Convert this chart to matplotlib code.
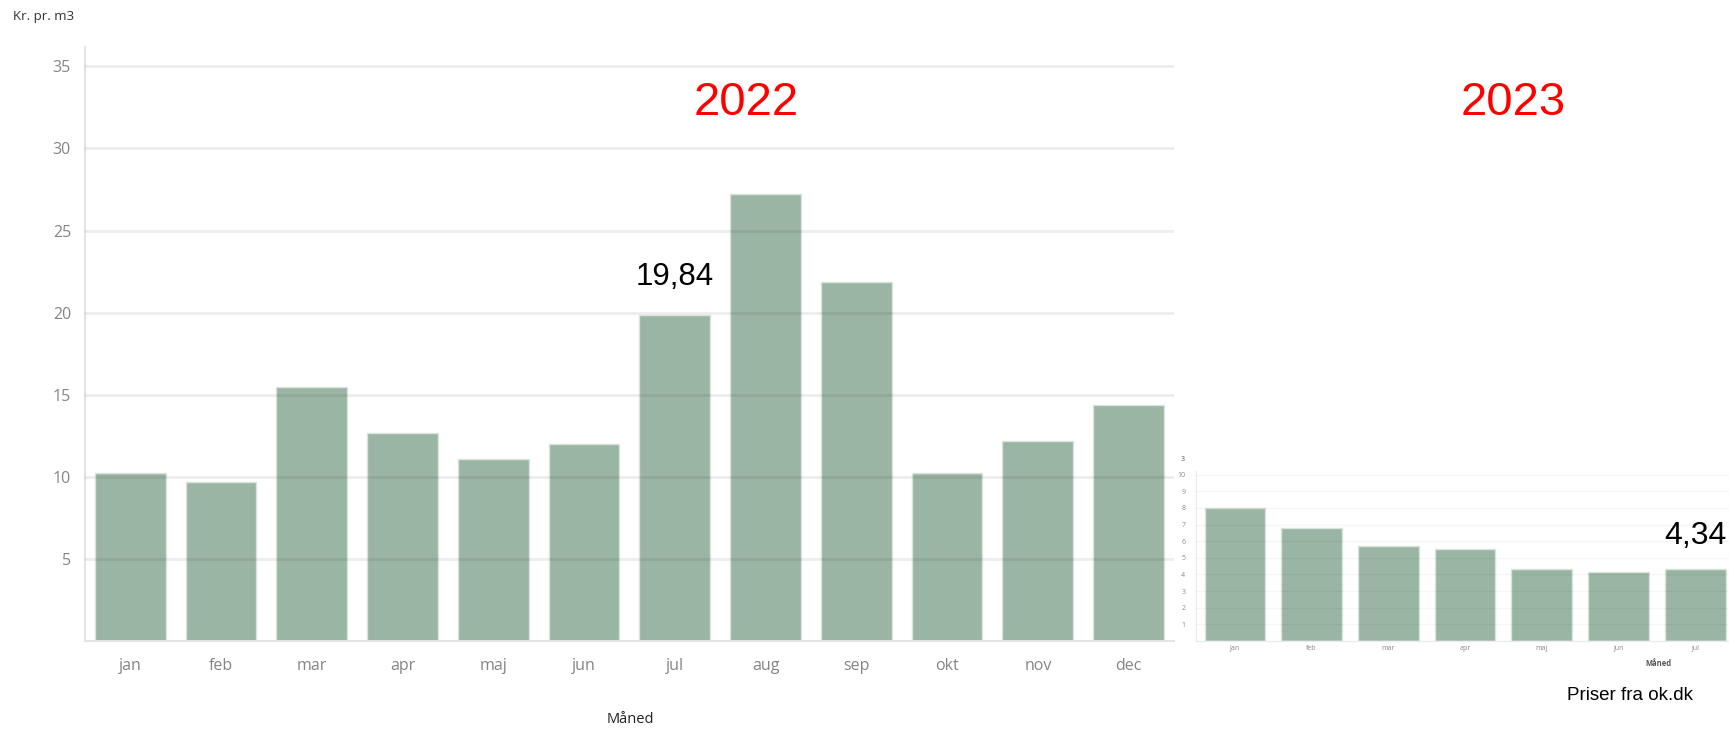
import matplotlib
matplotlib.use("Agg")
import matplotlib.pyplot as plt

months_2022 = ["jan", "feb", "mar", "apr", "maj", "jun", "jul", "aug", "sep", "okt", "nov", "dec"]
prices_2022 = [10.21, 9.70, 15.45, 12.67, 11.11, 12.02, 19.84, 27.25, 21.87, 10.21, 12.16, 14.37]
months_2023 = ["jan", "feb", "mar", "apr", "maj", "jun", "jul"]
prices_2023 = [7.98, 6.77, 5.73, 5.56, 4.35, 4.16, 4.34]
yticks_2022 = [5, 10, 15, 20, 25, 30, 35]
yticks_2023 = [1, 2, 3, 4, 5, 6, 7, 8, 9, 10]

BAR = "#9ab5a3"
EDGE = "#d9e4dc"
SPINE = "#e4e4e4"
TICKFONT = "Open Sans"

fig = plt.figure(figsize=(17.29, 7.29), dpi=100)

# ---- main 2022 chart ----
ax = fig.add_axes([0.0491, 0.1207, 0.679 - 0.0491, 0.936 - 0.1207])
x1 = range(len(months_2022))
ax.bar(x1, prices_2022, width=0.78, color=BAR, edgecolor=EDGE, linewidth=1, zorder=2)
ax.set_xlim(-0.5, 11.5)
ax.set_ylim(0, 36.2)
ax.set_yticks(yticks_2022)
ax.set_xticks(list(x1))
ax.set_xticklabels(months_2022)
ax.grid(axis="y", color="black", alpha=0.07, linewidth=2, zorder=3)
ax.set_axisbelow(False)
for s in ["top", "right"]:
    ax.spines[s].set_visible(False)
for s in ["left", "bottom"]:
    ax.spines[s].set_color(SPINE)
    ax.spines[s].set_linewidth(1.5)
ax.tick_params(axis="both", length=0, labelsize=11.5, labelcolor="#858585")
ax.tick_params(axis="x", pad=12)
ax.tick_params(axis="y", pad=10)
for lab in ax.get_xticklabels() + ax.get_yticklabels():
    lab.set_fontfamily(TICKFONT)
ax.text(6.0, 22.2, "19,84", ha="center", va="center", fontsize=22.5,
        family="Liberation Sans", color="black", zorder=5)

# ---- inset 2023 chart ----
ax2 = fig.add_axes([0.692, 0.1207, 1.0 - 0.692, 0.3545 - 0.1207])
x2 = range(len(months_2023))
ax2.bar(x2, prices_2023, width=0.79, color=BAR, edgecolor=EDGE, linewidth=1, zorder=2)
ax2.set_xlim(-0.5, 6.44)
ax2.set_ylim(0, 10.25)
ax2.set_yticks(yticks_2023)
ax2.set_xticks(list(x2))
ax2.set_xticklabels(months_2023)
ax2.grid(axis="y", color="black", alpha=0.035, linewidth=1, zorder=3)
ax2.set_axisbelow(False)
for s in ["top", "right"]:
    ax2.spines[s].set_visible(False)
for s in ["left", "bottom"]:
    ax2.spines[s].set_color("#ececec")
    ax2.spines[s].set_linewidth(1)
ax2.tick_params(axis="both", length=0, labelsize=5, labelcolor="#8a8a8a")
ax2.tick_params(axis="x", pad=3)
ax2.tick_params(axis="y", pad=8)
for lab in ax2.get_xticklabels() + ax2.get_yticklabels():
    lab.set_fontfamily(TICKFONT)
ax2.text(6.0, 6.34, "4,34", ha="center", va="center", fontsize=23,
         family="Liberation Sans", color="black", zorder=5)

# ---- figure texts ----
fig.text(0.0075, 0.977, "Kr. pr. m3", ha="left", va="center", fontsize=9.5,
         family=TICKFONT, color="#333333")
fig.text(0.3647, 0.0128, "Måned", ha="center", va="center", fontsize=10.5,
         family=TICKFONT, color="#222222")
fig.text(0.4316, 0.859, "2022", ha="center", va="center", fontsize=34,
         family="Liberation Sans", color="#ff0000")
fig.text(0.875, 0.859, "2023", ha="center", va="center", fontsize=34,
         family="Liberation Sans", color="#ff0000")
fig.text(0.683, 0.369, "3", ha="left", va="center", fontsize=5,
         family=TICKFONT, color="#555555")
fig.text(0.959, 0.0905, "Måned", ha="center", va="center", fontsize=5.5,
         family=TICKFONT, color="#555555", fontweight="bold")
fig.text(0.9427, 0.0466, "Priser fra ok.dk", ha="center", va="center", fontsize=13.5,
         family="Liberation Sans", color="black")

fig.savefig("out.png", dpi=100, facecolor="white")
